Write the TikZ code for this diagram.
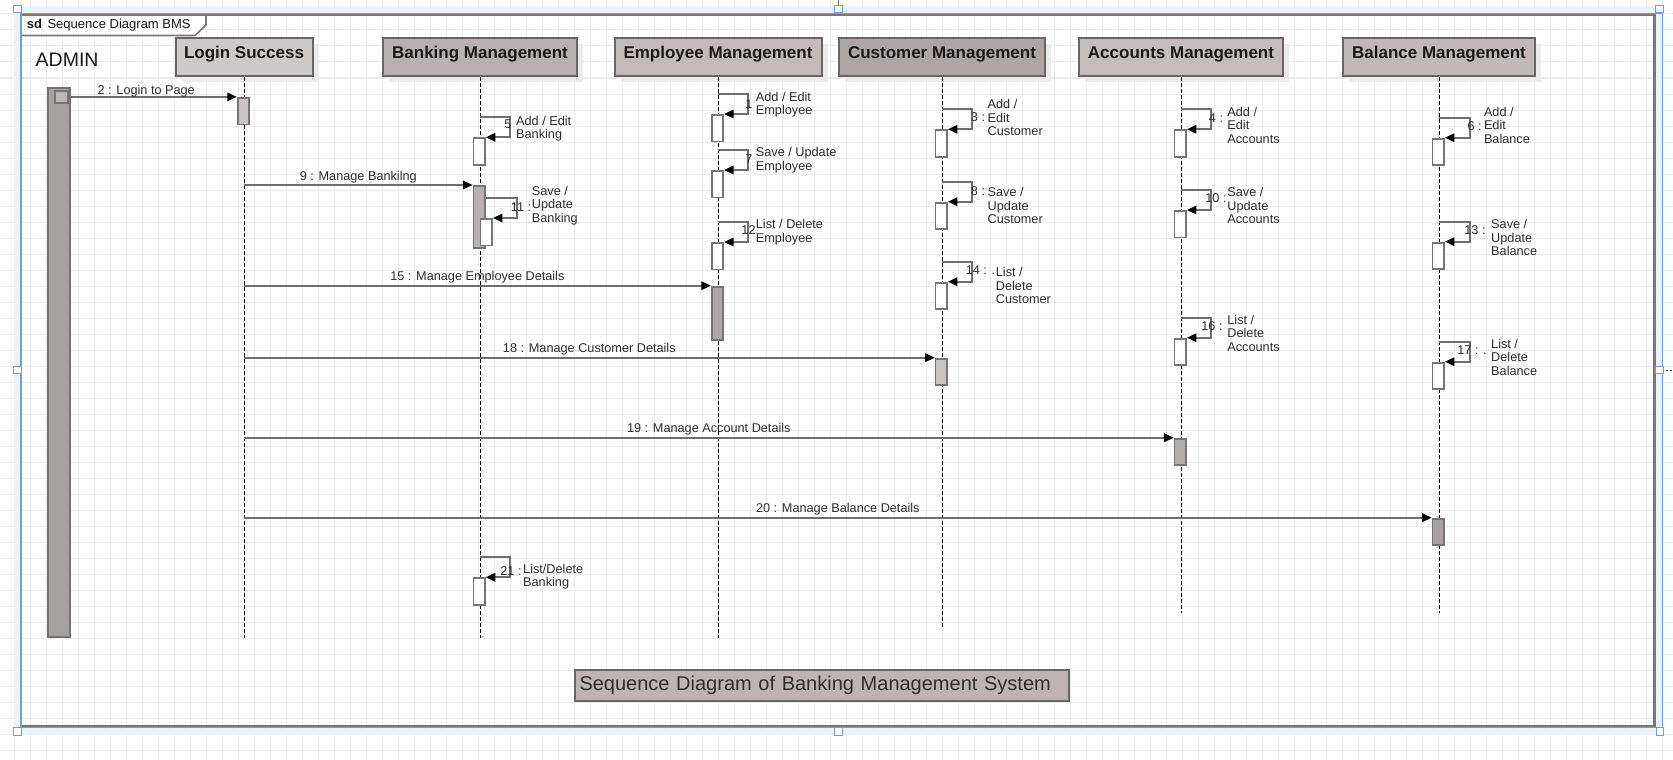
\documentclass[tikz,border=0pt]{standalone}
\usepackage{fontspec}
\setmainfont{Liberation Sans}
\usetikzlibrary{arrows.meta,shadows,calc}
\definecolor{hdrLogin}{HTML}{CDC9C9}
\definecolor{hdrBank}{HTML}{B9B1B1}
\definecolor{hdrEmp}{HTML}{C2BBBA}
\definecolor{hdrCust}{HTML}{AEA6A5}
\definecolor{hdrAcc}{HTML}{C4BDBC}
\definecolor{hdrBal}{HTML}{C0B9B8}
\definecolor{borderg}{HTML}{666666}
\definecolor{actborder}{HTML}{757575}
\definecolor{shadowc}{HTML}{EBEBEB}
\definecolor{gridc}{HTML}{EBEBEB}
\definecolor{msgc}{HTML}{6E6E6E}
\definecolor{txtc}{HTML}{2E2E2E}
\definecolor{selblue}{HTML}{6D9EEB}
\definecolor{selband}{HTML}{EAF2FD}
\definecolor{framec}{HTML}{787878}
\definecolor{adminc}{HTML}{A6A2A1}
\definecolor{adminsq}{HTML}{BCB6B5}
\definecolor{actLogin}{HTML}{C9C4C4}
\definecolor{actBank}{HTML}{B8B1B1}
\definecolor{actEmp}{HTML}{AFA8A8}
\definecolor{actCust}{HTML}{C9C3C3}
\definecolor{actAcc}{HTML}{B3ACAC}
\definecolor{actBal}{HTML}{ABA3A3}
\definecolor{titlec}{HTML}{BDB4B3}
\newcommand\msgfont{\fontsize{12.7}{13.3}\selectfont}
\newcommand\hdrfont{\fontsize{17}{20}\selectfont\bfseries}
\tikzset{
  gridl/.style={draw=gridc, line width=1pt},
  hdr/.style={draw=borderg, line width=2pt, font=\hdrfont, text=black!90, inner sep=0pt,
     minimum height=38pt, text height=12pt, text depth=10pt,
     drop shadow={shadow xshift=6pt, shadow yshift=-6pt, fill=shadowc, opacity=1}},
  lifeline/.style={draw=black, line width=0.95pt, dash pattern=on 3.5pt off 2.5pt},
  act/.style={draw=actborder, line width=1.8pt, inner sep=0pt, minimum width=11.5pt, minimum height=26.5pt},
  msg/.style={draw=msgc, line width=1.8pt, -{Triangle[length=9.5pt,width=8.5pt,color=black]}},
  lbl/.style={font=\msgfont, text=txtc, inner sep=0pt},
  handle/.style={draw=selblue, fill=white, line width=1pt, minimum size=7.5pt, inner sep=0pt},
}
\begin{document}
\begin{tikzpicture}[x=1pt,y=-1pt]
\useasboundingbox (0,0) rectangle (1673,760);
\fill[white] (0,0) rectangle (1673,760);
% background grid
\foreach \i in {0,...,104} { \draw[gridl] ({14.3+16*\i},0) -- ({14.3+16*\i},760); }
\foreach \j in {0,...,46} { \draw[gridl] (0,{14+16*\j}) -- (1673,{14+16*\j}); }
% selection band
\fill[selband, even odd rule] (14.5,6.5) rectangle (1662.8,735) (21,13.3) rectangle (1655.5,727);
% sd pentagon
\draw[framec, line width=1.6pt, fill=white] (21,14.8) -- (206,14.8) -- (206,25) -- (195,35.5) -- (21,35.5) -- cycle;
\node[font=\fontsize{13}{15}\selectfont, text=black!90, inner sep=0pt, anchor=base west] (sdlabel) at (26.7,28.9) {{\bfseries sd}\hspace{5.5pt}Sequence Diagram BMS};
% frame
\draw[framec, line width=2.3pt] (21,14.8) -- (1654.5,14.8) -- (1654.5,726) -- (21,726);
\draw[selblue, line width=1.2pt] (21,13.3) -- (1662.8,13.3);
\draw[selblue, line width=1.4pt] (21,13.3) -- (21,727.7);
\draw[selblue, line width=1.2pt] (1662.8,13.3) -- (1662.8,727.7);
\draw[selblue, line width=1.2pt] (21,727.7) -- (1662.8,727.7);
% handles
\node[handle] (hTL) at (17.5,9.2) {};
\node[handle] (hTM) at (838.5,9.2) {};
\node[handle] (hTR) at (1659.6,9.2) {};
\node[handle] (hML) at (17.4,370) {};
\node[handle] (hMR) at (1659.5,370.2) {};
\node[handle] (hBL) at (17.4,731.4) {};
\node[handle] (hBM) at (838.3,731.4) {};
\node[handle] (hBR) at (1659.8,731.4) {};
\coordinate (topmark) at (838.5,0);
\draw[black!55, line width=1pt] (hTM.north) -- (topmark);
\coordinate (rmark) at (1673,370.2);
\draw[black!75, line width=1.4pt, dash pattern=on 2pt off 2pt] (hMR.east) ++(2.5,0) -- (rmark);
% ADMIN
\node[font=\fontsize{19.5}{22}\selectfont, text=black!90, inner sep=0pt, anchor=base west] (adminlbl) at (35.5,66.5) {ADMIN};
% headers
\node[hdr, fill=hdrLogin, minimum width=137pt] (hLogin) at (244,57.3) {Login Success};
\node[hdr, fill=hdrBank, minimum width=193.3pt] (hBank) at (480,57.3) {Banking Management};
\node[hdr, fill=hdrEmp, minimum width=207pt] (hEmp) at (718,57.3) {Employee Management};
\node[hdr, fill=hdrCust, minimum width=205.8pt] (hCust) at (942,57.3) {Customer Management};
\node[hdr, fill=hdrAcc, minimum width=203.5pt] (hAcc) at (1181,57.3) {Accounts Management};
\node[hdr, fill=hdrBal, minimum width=191.7pt] (hBal) at (1439,57.3) {Balance Management};
% lifelines
\coordinate (eLogin) at (244,638);
\coordinate (eBank) at (480,638);
\coordinate (eEmp) at (718,637.7);
\coordinate (eCust) at (942,626.7);
\coordinate (eAcc) at (1181,613);
\coordinate (eBal) at (1439,613);
\draw[lifeline] (hLogin.south) -- (eLogin);
\draw[lifeline] (hBank.south) -- (eBank);
\draw[lifeline] (hEmp.south) -- (eEmp);
\draw[lifeline] (hCust.south) -- (eCust);
\draw[lifeline] (hAcc.south) -- (eAcc);
\draw[lifeline] (hBal.south) -- (eBal);
% admin bar
\node[act, fill=adminc, minimum width=22.3pt, minimum height=548.7pt, anchor=north west] (admin) at (46.7,87) {};
\node[act, fill=adminsq, minimum width=13pt, minimum height=12.4pt, anchor=north west] (asq) at (54.3,89.8) {};
% activations for long messages
\node[act, fill=actLogin, minimum height=26.5pt, anchor=north] (aLogin) at (243.4,97) {};
\node[act, fill=actBank, minimum height=62pt, anchor=north] (aBank) at (479.2,185) {};
\node[act, fill=actEmp, minimum height=53pt, anchor=north] (aEmp) at (717.4,285.7) {};
\node[act, fill=actCust, anchor=north] (aCust) at (941.3,357.7) {};
\node[act, fill=actAcc, anchor=north] (aAcc) at (1180.3,437.7) {};
\node[act, fill=actBal, anchor=north] (aBal) at (1438.3,517.7) {};
% long messages
\coordinate (m9) at (244,185);
\coordinate (m15) at (244,285.7);
\coordinate (m18) at (244,357.7);
\coordinate (m19) at (244,437.7);
\coordinate (m20) at (244,517.7);
\draw[msg] (asq.east) -- (asq.east -| aLogin.west) node[lbl, pos=0.46, anchor=base, yshift=2pt] (l2) {2 : Login to Page};
\draw[msg] (m9) -- (aBank.north west) node[lbl, midway, anchor=base, yshift=5pt] (l9) {9 : Manage Bankilng};
\draw[msg] (m15) -- (aEmp.north west) node[lbl, midway, anchor=base, yshift=5pt] (l15) {15 : Manage Employee Details};
\draw[msg] (m18) -- (aCust.north west) node[lbl, midway, anchor=base, yshift=5pt] (l18) {18 : Manage Customer Details};
\draw[msg] (m19) -- (aAcc.north west) node[lbl, midway, anchor=base, yshift=5pt] (l19) {19 : Manage Account Details};
\draw[msg] (m20) -- (aBal.north west) node[lbl, midway, anchor=base, yshift=5pt] (l20) {20 : Manage Balance Details};
% ---- self messages: Banking
\coordinate (s5) at (480,117.3);
\node[act, fill=white, anchor=north] (a5) at (479.2,137.3) {};
\draw[msg] (s5) -| ([xshift=24.5pt]a5.north east) -- (a5.north east);
\node[lbl] (n5) at (508,124) {5};
\node[lbl, align=left, anchor=north west] (t5) at (516,115.9) {Add / Edit\\Banking};
\coordinate (s11) at (485,198.3);
\node[act, fill=white, anchor=north] (a11) at (486.3,218) {};
\draw[msg] (s11) -| ([xshift=24pt]a11.north east) -- (a11.north east);
\node[lbl] (n11) at (521,206.7) {11 :};
\node[lbl, align=left, anchor=north west] (t11) at (531.7,186) {Save /\\Update\\Banking};
\coordinate (s21) at (480,557.3);
\node[act, fill=white, anchor=north] (a21) at (479.2,577.3) {};
\draw[msg] (s21) -| ([xshift=24.5pt]a21.north east) -- (a21.north east);
\node[lbl] (n21) at (511,571) {21 :};
\node[lbl, align=left, anchor=north west] (t21) at (523,564.2) {List/Delete\\Banking};
% ---- Employee
\coordinate (s1) at (718,94);
\node[act, fill=white, anchor=north] (a1) at (717.4,114) {};
\draw[msg] (s1) -| ([xshift=24.3pt]a1.north east) -- (a1.north east);
\node[lbl] (n1) at (749,104) {1};
\node[lbl, align=left, anchor=north west] (t1) at (755.7,91.9) {Add / Edit\\Employee};
\coordinate (s7) at (718,150);
\node[act, fill=white, anchor=north] (a7) at (717.4,170) {};
\draw[msg] (s7) -| ([xshift=24.3pt]a7.north east) -- (a7.north east);
\node[lbl] (n7) at (749,159.5) {7};
\node[lbl, align=left, anchor=north west] (t7) at (755.7,147.5) {Save / Update\\Employee};
\coordinate (s12) at (718,222);
\node[act, fill=white, anchor=north] (a12) at (717.4,242) {};
\draw[msg] (s12) -| ([xshift=24.3pt]a12.north east) -- (a12.north east);
\node[lbl] (n12) at (748.5,230) {12};
\node[lbl, align=left, anchor=north west] (t12) at (755.7,219.5) {List / Delete\\Employee};
% ---- Customer
\coordinate (s3) at (942,109.3);
\node[act, fill=white, anchor=north] (a3) at (941.3,129.3) {};
\draw[msg] (s3) -| ([xshift=24.3pt]a3.north east) -- (a3.north east);
\node[lbl] (n3) at (978,117.3) {3 :};
\node[lbl, align=left, anchor=north west] (t3) at (987.5,99.5) {Add /\\Edit\\Customer};
\coordinate (s8) at (942,181.7);
\node[act, fill=white, anchor=north] (a8) at (941.3,201.7) {};
\draw[msg] (s8) -| ([xshift=24.3pt]a8.north east) -- (a8.north east);
\node[lbl] (n8) at (978,190.7) {8 :};
\node[lbl, align=left, anchor=north west] (t8) at (987.5,187.5) {Save /\\Update\\Customer};
\coordinate (s14) at (942,261.7);
\node[act, fill=white, anchor=north] (a14) at (941.3,281.7) {};
\draw[msg] (s14) -| ([xshift=24.3pt]a14.north east) -- (a14.north east);
\node[lbl] (n14) at (980.5,270) {14 : .};
\node[lbl, align=left, anchor=north west] (t14) at (995.7,267.5) {List /\\Delete\\Customer};
% ---- Accounts
\coordinate (s4) at (1181,109.3);
\node[act, fill=white, anchor=north] (a4) at (1180.3,129.3) {};
\draw[msg] (s4) -| ([xshift=24.3pt]a4.north east) -- (a4.north east);
\node[lbl] (n4) at (1216,118.3) {4 :};
\node[lbl, align=left, anchor=north west] (t4) at (1227.2,107.2) {Add /\\Edit\\Accounts};
\coordinate (s10) at (1181,190);
\node[act, fill=white, anchor=north] (a10) at (1180.3,210) {};
\draw[msg] (s10) -| ([xshift=24.3pt]a10.north east) -- (a10.north east);
\node[lbl] (n10) at (1216,198.3) {10 :};
\node[lbl, align=left, anchor=north west] (t10) at (1227.2,187.5) {Save /\\Update\\Accounts};
\coordinate (s16) at (1181,317.7);
\node[act, fill=white, anchor=north] (a16) at (1180.3,337.7) {};
\draw[msg] (s16) -| ([xshift=24.3pt]a16.north east) -- (a16.north east);
\node[lbl] (n16) at (1212,325.7) {16 :};
\node[lbl, align=left, anchor=north west] (t16) at (1227.2,315.2) {List /\\Delete\\Accounts};
% ---- Balance
\coordinate (s6) at (1439,117.7);
\node[act, fill=white, anchor=north] (a6) at (1438.3,137.7) {};
\draw[msg] (s6) -| ([xshift=24.8pt]a6.north east) -- (a6.north east);
\node[lbl] (n6) at (1474.6,126) {6 :};
\node[lbl, align=left, anchor=north west] (t6) at (1483.8,107.2) {Add /\\Edit\\Balance};
\coordinate (s13) at (1439,221.7);
\node[act, fill=white, anchor=north] (a13) at (1438.3,241.7) {};
\draw[msg] (s13) -| ([xshift=24.8pt]a13.north east) -- (a13.north east);
\node[lbl] (n13) at (1475,230) {13 :};
\node[lbl, align=left, anchor=north west] (t13) at (1491,219.5) {Save /\\Update\\Balance};
\coordinate (s17) at (1439,341.7);
\node[act, fill=white, anchor=north] (a17) at (1438.3,361.7) {};
\draw[msg] (s17) -| ([xshift=24.8pt]a17.north east) -- (a17.north east);
\node[lbl] (n17) at (1472,350) {17 : .};
\node[lbl, align=left, anchor=north west] (t17) at (1491,339.2) {List /\\Delete\\Balance};
% title box
\node[draw=borderg, line width=2pt, fill=titlec, font=\fontsize{20}{24}\selectfont, text=txtc,
      text width=485pt, inner xsep=4.5pt, inner ysep=0pt, minimum height=30.7pt, align=left] (title) at (822,685.3)
      {Sequence Diagram of Banking Management System};
\end{tikzpicture}
\end{document}
